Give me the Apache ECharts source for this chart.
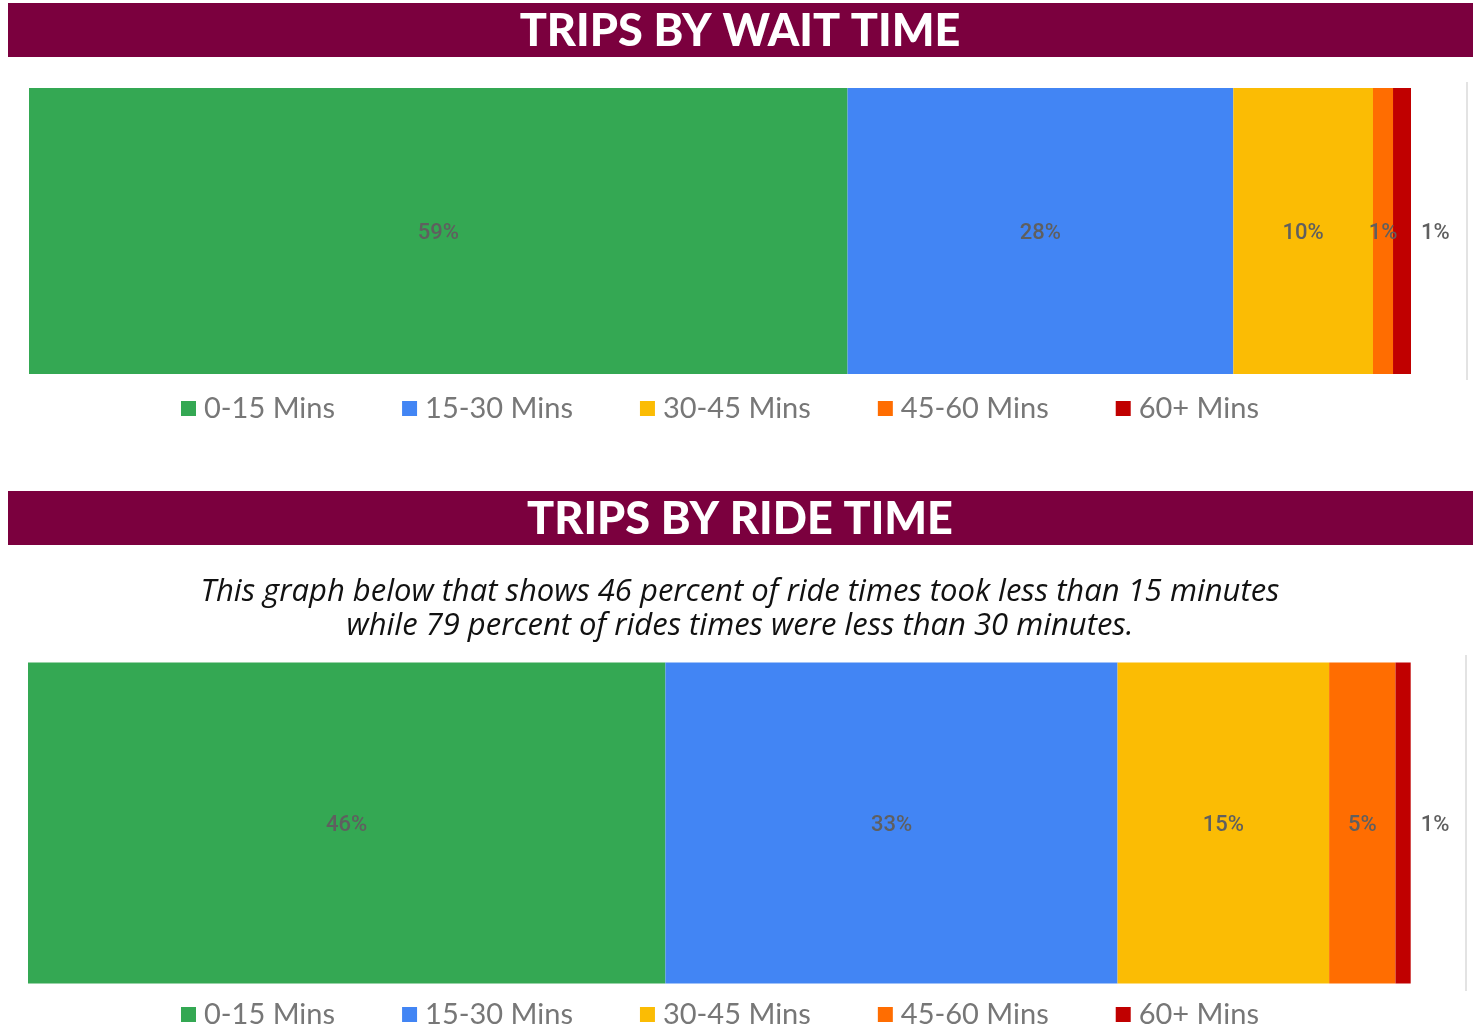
<!DOCTYPE html>
<html>
<head>
<meta charset="utf-8">
<title>Trips by wait time / ride time</title>
<script src="https://cdn.jsdelivr.net/npm/echarts@6/dist/echarts.min.js"></script>
<style>
  html, body { margin: 0; padding: 0; background: #fff; }
  #main { width: 1478px; height: 1029px; }
</style>
</head>
<body>
<div id="main"></div>
<script>
// 分类（图例）
var buckets = ['0-15 Mins', '15-30 Mins', '30-45 Mins', '45-60 Mins', '60+ Mins'];
// 等待时间占比 (%)
var waitShare = [59.2, 27.9, 10.1, 1.45, 1.3];
// 乘车时间占比 (%)
var rideShare = [46.1, 32.7, 15.3, 4.8, 1.1];
var colors = ['#34a853', '#4285f4', '#fbbc04', '#ff6d01', '#c00000'];
var titles = ['TRIPS BY WAIT TIME', 'TRIPS BY RIDE TIME'];
var note = 'This graph below that shows 46 percent of ride times took less than 15 minutes\nwhile 79 percent of rides times were less than 30 minutes.';

(function () {
  var myChart = echarts.init(document.getElementById('main'));
  var banner = '#7b003e';

  // 一组堆叠条形
  function makeSeries(values, idx, stack) {
    return values.map(function (v, i) {
      var last = i === values.length - 1;
      return {
        name: buckets[i],
        type: 'bar',
        stack: stack,
        xAxisIndex: idx,
        yAxisIndex: idx,
        barWidth: idx === 0 ? '96%' : '95.5%',
        itemStyle: { color: colors[i] },
        label: {
          show: true,
          position: last ? 'right' : 'inside',
          distance: 10,
          offset: [0, 2],
          color: '#5f5f5f',
          fontSize: 22,
          fontWeight: 500,
          fontFamily: 'Roboto',
          formatter: function (p) { return Math.round(p.value) + '%'; }
        },
        data: [v]
      };
    });
  }

  function valueAxis(idx) {
    return {
      type: 'value',
      gridIndex: idx,
      min: 0,
      max: 104,
      interval: 104,
      axisLine: { show: false },
      axisTick: { show: false },
      axisLabel: { show: false },
      splitLine: { show: true, showMinLine: false, lineStyle: { color: '#e3e3e3', width: 2 } }
    };
  }

  function catAxis(idx) {
    return {
      type: 'category',
      gridIndex: idx,
      data: [''],
      axisLine: { show: false },
      axisTick: { show: false },
      axisLabel: { show: false }
    };
  }

  function legend(top) {
    return {
      data: buckets,
      left: 181,
      top: top,
      padding: 0,
      icon: 'rect',
      itemWidth: 15,
      itemHeight: 15,
      itemGap: 67,
      textStyle: { color: '#777', fontSize: 29, fontFamily: 'Lato', padding: [0, 0, 0, 3] }
    };
  }

  var option = {
    animation: false,
    color: colors,
    graphic: [
      { type: 'rect', shape: { x: 8, y: 3, width: 1465, height: 54 }, style: { fill: banner } },
      { type: 'rect', shape: { x: 8, y: 491, width: 1465, height: 54 }, style: { fill: banner } },
      {
        type: 'text', x: 740, y: 31,
        style: { text: titles[0], fill: '#fff', font: '900 45px Lato', textAlign: 'center', textVerticalAlign: 'middle' }
      },
      {
        type: 'text', x: 740, y: 519,
        style: { text: titles[1], fill: '#fff', font: '900 45px Lato', textAlign: 'center', textVerticalAlign: 'middle' }
      },
      {
        type: 'text', x: 740, y: 609,
        style: { text: note, fill: '#111', font: 'italic 31px "Open Sans"', textAlign: 'center', textVerticalAlign: 'middle', lineHeight: 34 }
      }
    ],
    legend: [legend(394), legend(1000)],
    grid: [
      { left: 29, right: 11, top: 82, height: 298 },
      { left: 28, right: 12, top: 655, height: 336 }
    ],
    xAxis: [valueAxis(0), valueAxis(1)],
    yAxis: [catAxis(0), catAxis(1)],
    series: makeSeries(waitShare, 0, 'wait').concat(makeSeries(rideShare, 1, 'ride'))
  };
  myChart.setOption(option);
})();
</script>
</body>
</html>
